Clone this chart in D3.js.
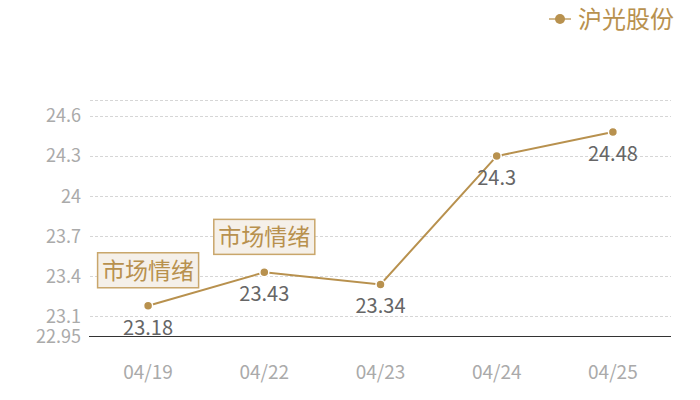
<!DOCTYPE html>
<html lang="zh">
<head>
<meta charset="utf-8">
<title>沪光股份</title>
<script src="https://cdn.jsdelivr.net/npm/d3@7"></script>
<style>
  body { margin: 0; background: #fff; }
  svg { display: block; font-family: "Noto Sans CJK SC", "Open Sans", sans-serif; }
</style>
</head>
<body>
<div id="chart"></div>
<script>
// data
var dates = ["04/19", "04/22", "04/23", "04/24", "04/25"];
var prices = [23.18, 23.43, 23.34, 24.3, 24.48];
var seriesName = "沪光股份";
var yTicks = [22.95, 23.1, 23.4, 23.7, 24, 24.3, 24.6];
var yMax = 24.72;
// annotations: index of the point they sit above
var notes = [
  { i: 0, text: "市场情绪" },
  { i: 1, text: "市场情绪" }
];

var W = 700, H = 400;
var gold = "#b8914e";

var svg = d3.select("#chart").append("svg")
  .attr("width", W).attr("height", H);

var x = d3.scalePoint().domain(dates).range([90, 671]).padding(0.5);
var y = d3.scaleLinear().domain([yTicks[0], yMax]).range([336.5, 100]);

// grid lines
svg.append("g").selectAll("line")
  .data(yTicks.slice(1).concat([yMax]))
  .enter().append("line")
  .attr("x1", 90).attr("x2", 671)
  .attr("y1", d => Math.round(y(d)) + 0.5)
  .attr("y2", d => Math.round(y(d)) + 0.5)
  .attr("stroke", "#d6d6d6")
  .attr("stroke-dasharray", "3,2");

// y labels
svg.append("g").selectAll("text")
  .data(yTicks)
  .enter().append("text")
  .attr("x", 81)
  .attr("y", d => y(d))
  .attr("dy", "0.35em")
  .attr("text-anchor", "end")
  .attr("fill", "#aaaaaa")
  .attr("font-size", 18)
  .text(d => d);

// x axis line
svg.append("line")
  .attr("x1", 89).attr("x2", 671)
  .attr("y1", 336.5).attr("y2", 336.5)
  .attr("stroke", "#333");

svg.append("g").selectAll("text")
  .data(dates)
  .enter().append("text")
  .attr("x", d => x(d))
  .attr("y", 372)
  .attr("dy", "0.35em")
  .attr("text-anchor", "middle")
  .attr("fill", "#aaaaaa")
  .attr("font-size", 19)
  .text(d => d);

// line
var line = d3.line()
  .x((d, i) => x(dates[i]))
  .y(d => y(d));

svg.append("path")
  .datum(prices)
  .attr("d", line)
  .attr("fill", "none")
  .attr("stroke", gold)
  .attr("stroke-width", 2);

svg.append("g").selectAll("circle")
  .data(prices)
  .enter().append("circle")
  .attr("cx", (d, i) => x(dates[i]))
  .attr("cy", d => y(d))
  .attr("r", 4.5)
  .attr("fill", gold)
  .attr("stroke", "#fff")
  .attr("stroke-width", 1.5);

// value labels
svg.append("g").selectAll("text")
  .data(prices)
  .enter().append("text")
  .attr("x", (d, i) => x(dates[i]))
  .attr("y", d => y(d) + 22)
  .attr("dy", "0.35em")
  .attr("text-anchor", "middle")
  .attr("fill", "#666")
  .attr("font-size", 20)
  .text(d => d);

// annotation boxes
var ng = svg.append("g").selectAll("g")
  .data(notes)
  .enter().append("g")
  .attr("transform", d => "translate(" + x(dates[d.i]) + "," + (y(prices[d.i]) - 35.5) + ")");

ng.append("rect")
  .attr("x", -50.5).attr("y", -17.5)
  .attr("width", 101).attr("height", 35)
  .attr("fill", "#f5f0e9")
  .attr("stroke", "#c9a66b")
  .attr("stroke-width", 1.5);

ng.append("text")
  .attr("text-anchor", "middle")
  .attr("dy", "0.36em")
  .attr("fill", gold)
  .attr("font-size", 23)
  .text(d => d.text);

// legend
var lg = svg.append("g").attr("transform", "translate(549,19)");
lg.append("line")
  .attr("x1", 0).attr("x2", 22)
  .attr("stroke", "#d2b98d").attr("stroke-width", 2);
lg.append("circle")
  .attr("cx", 11).attr("r", 5)
  .attr("fill", gold);
lg.append("text")
  .attr("x", 29)
  .attr("dy", "0.36em")
  .attr("fill", gold)
  .attr("font-size", 24)
  .text(seriesName);
</script>
</body>
</html>
